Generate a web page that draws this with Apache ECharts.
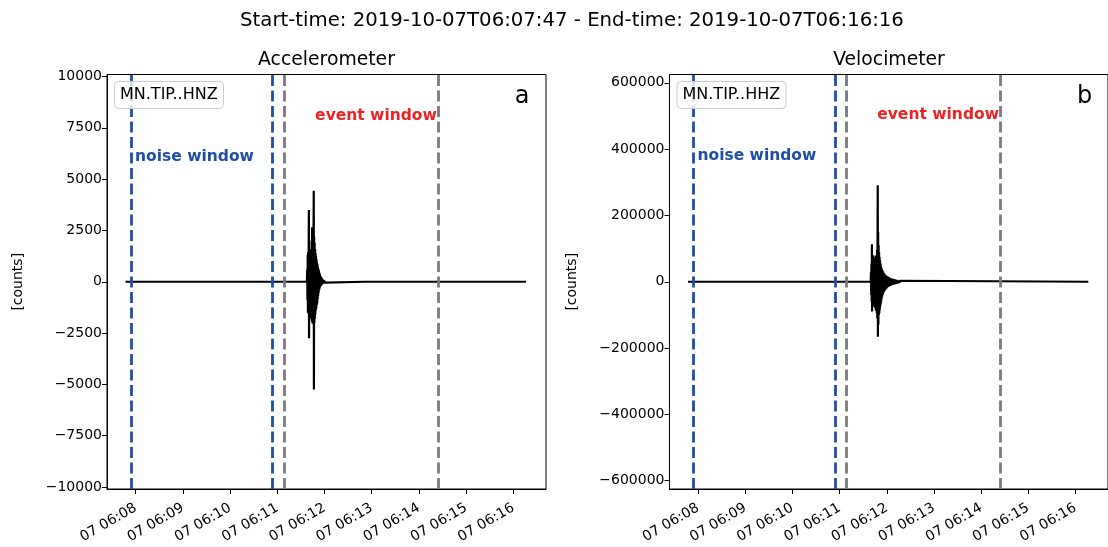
<!DOCTYPE html>
<html>
<head>
    <meta charset="UTF-8"/>
    <title>waveform</title>
    <script src="https://cdn.jsdelivr.net/npm/echarts@6/dist/echarts.min.js"></script>
    <style>
        html, body {margin: 0; padding: 0; background: #fff;}
        #main {width: 1108px; height: 547px;}
    </style>
</head>
<body>
<div id="main"></div>
<script>
    // time = seconds after 2019-10-07 06:00:00
    var accTimes = [467, 697.6,
        698.0, 698.3, 698.6, 698.9, 699.2, 699.5, 699.8, 700.1, 700.3, 700.6, 700.9, 701.2, 701.5, 701.8,
        702.1, 702.4, 702.7, 703.0, 703.3, 703.6, 703.9, 704.2, 704.5, 704.8, 705.1, 705.4, 705.7, 706.0,
        706.3, 706.5, 706.8, 707.1, 707.4, 707.7, 708.0, 708.3, 708.6, 708.9, 709.2, 709.5, 709.8, 710.1,
        710.4, 710.7, 711.0, 711.3, 711.6, 711.9, 712.2, 712.5, 712.8, 713.1, 713.45, 713.8, 714.15, 714.5,
        714.85, 715.2, 715.55, 715.9, 716.25, 716.6, 716.95, 717.3, 717.65, 718.0, 718.35, 718.7, 719.05, 719.4,
        719.75, 720.1, 720.45, 720.8, 721.15, 721.5,
        771.8, 772, 772.3, 772.5, 828.8, 829, 829.3, 829.5, 845.8, 846, 846.3, 846.5, 976];
    var accCounts = [0, 0,
        600, -900, 1300, -1500, 1450, -1550, 1400, 3500, -2750, 1450, -1600, 1400, -1550, 1500,
        -1600, 1450, -1700, 1600, -1800, 2000, -1900, 2650, -2000, 2500, -2050, 2600, -2000, 2300,
        4430, -5250, 2200, -2000, 1900, -1800, 1600, -1600, 1400, -1400, 1250, -1300, 1100, -1150,
        950, -1050, 850, -850, 720, -700, 620, -550, 560, -420, 450, -330, 360, -250,
        280, -200, 230, -170, 190, -140, 150, -110, 120, -90, 95, -75, 80, -60,
        60, -45, 45, -35, 35, 0,
        0, 60, -50, 0, 0, 50, -40, 0, 0, 60, -50, 0, 0];

    var velTimes = [467, 699.6,
        699.9, 700.2, 700.5, 700.8, 701.1, 701.3, 701.6, 701.9, 702.2, 702.5, 702.8, 703.1, 703.4, 703.7,
        704.0, 704.3, 704.6, 704.9, 705.2, 705.5, 705.8, 706.1, 706.4, 706.7, 707.0, 707.3, 707.6, 707.9,
        708.2, 708.5, 708.7, 709.0, 709.3, 709.6, 709.9, 710.2, 710.5, 710.8, 711.1, 711.4, 711.7, 712.0,
        712.3, 712.6, 712.9, 713.2, 713.5, 713.8, 714.1, 714.4, 714.8, 715.2, 715.6, 716.0, 716.4, 716.9,
        717.4, 717.9, 718.4, 719.0, 719.4, 719.8, 720.2, 720.6, 721.0, 721.4, 721.8, 722.2, 722.6, 723.0,
        723.4, 723.8, 724.2, 724.6, 725.0, 725.4, 725.8, 726.2, 726.6, 727.0, 727.4, 727.8, 728.2, 728.6,
        729.0, 729.4, 729.8, 730.2, 730.6, 731.0, 731.4, 731.8, 732.2, 732.6, 733.0, 733.4, 733.8, 734.2,
        734.6, 735.0, 735.4, 735.8, 736.2, 736.6, 737.0, 737.4, 737.8, 738.2, 976.5];
    var velCounts = [0, 0,
        30000, -40000, 55000, -60000, 113000, -90000, 60000, -65000, 65000, -70000, 80000, -72000, 62000, -70000,
        65000, -75000, 70000, -78000, 72000, -80000, 75000, -85000, 78000, -88000, 80000, -95000, 96000, -110000,
        100000, 291000, -166000, 150000, -130000, 110000, -100000, 90000, -95000, 75000, -85000, 65000, -75000, 55000,
        -68000, 47000, -60000, 42000, -52000, 38000, -45000, 35000, -40000, 31000, -35000, 27000, -30000, 24000,
        -27000, 21000, -24000, 19000, -21000, 17000, -18000, 16000, -17000, 15000, -15500, 14000, -14500, 13000,
        -13500, 12000, -12500, 11000, -11500, 10000, -10500, 9500, -9500, 9000, -9000, 8500, -8500, 8000,
        -8000, 7500, -7500, 7000, -7000, 6500, -6500, 6000, -6000, 5500, -5500, 5000, -5000, 4500,
        -4500, 4000, -4000, 3500, -3500, 3000, -3000, 2500, -2500, 0, 0];

    var noiseWindow = [474, 654];
    var eventWindow = [669, 864];

    var xTickSecs = [480, 540, 600, 660, 720, 780, 840, 900, 960];
    var xTickLabels = ['07 06:08', '07 06:09', '07 06:10', '07 06:11', '07 06:12', '07 06:13', '07 06:14', '07 06:15', '07 06:16'];
    var accTicks = [-10000, -7500, -5000, -2500, 0, 2500, 5000, 7500, 10000];
    var velTicks = [-600000, -400000, -200000, 0, 200000, 400000, 600000];

    var panelTitles = ['Accelerometer', 'Velocimeter'];
    var stationNames = ['MN.TIP..HNZ', 'MN.TIP..HHZ'];
    var panelLetters = ['a', 'b'];
    var noiseLabelY = [6100, 380000];
    var eventLabelY = [8100, 503000];

    var FONT = 'DejaVu Sans';
    var BLUE = '#1f4fa5';
    var GREY = '#7b7b7b';
    var RED = '#ee2222';

    function zip(a, b) {
        var out = [];
        for (var i = 0; i < a.length; i++) out.push([a[i], b[i]]);
        return out;
    }
    function minusFmt(v) {
        return v < 0 ? '\u2212' + Math.abs(v) : String(v);
    }

    var grids = [
        {left: 107, top: 74.5, width: 439, height: 414.5},
        {left: 669.5, top: 74.5, width: 439, height: 414.5}
    ];
    var yLimits = [10100, 625000];
    var yTicks = [accTicks, velTicks];
    var waves = [zip(accTimes, accCounts), zip(velTimes, velCounts)];

    var option = {
        animation: false,
        backgroundColor: '#fff',
        textStyle: {fontFamily: FONT},
        title: [{
            text: 'Start-time: 2019-10-07T06:07:47 - End-time: 2019-10-07T06:16:16',
            left: 572, top: 11, textAlign: 'center', padding: 0,
            textStyle: {fontFamily: FONT, fontSize: 19.7, fontWeight: 'normal', color: '#000'}
        }],
        grid: [],
        xAxis: [],
        yAxis: [],
        series: []
    };

    for (var p = 0; p < 2; p++) {
        var g = grids[p];
        option.grid.push({left: g.left, top: g.top, width: g.width, height: g.height,
            show: true, borderColor: '#000', borderWidth: 1, backgroundColor: 'transparent'});

        option.title.push({
            text: panelTitles[p], left: g.left + g.width / 2, top: 51, textAlign: 'center', padding: 0,
            textStyle: {fontFamily: FONT, fontSize: 18.8, fontWeight: 'normal', color: '#000'}
        });
        option.title.push({
            text: stationNames[p], left: g.left + 7, top: g.top + 6.5,
            padding: [6, 6, 6, 6], borderWidth: 1, borderColor: '#cccccc', borderRadius: 4,
            backgroundColor: 'rgba(255,255,255,0.8)',
            textStyle: {fontFamily: FONT, fontSize: 16, fontWeight: 'normal', color: '#000'}
        });
        option.title.push({
            text: panelLetters[p], left: g.left + g.width - 29, top: g.top + 5, textAlign: 'center',
            textStyle: {fontFamily: FONT, fontSize: 24, fontWeight: 'normal', color: '#000'}
        });

        option.xAxis.push({
            type: 'value', gridIndex: p, min: 443.5, max: 1001.5,
            axisLine: {show: true, onZero: false, lineStyle: {color: '#000', width: 1}},
            axisTick: {show: true, customValues: xTickSecs, length: 5, lineStyle: {color: '#000'}},
            splitLine: {show: false},
            axisLabel: {
                customValues: xTickSecs, rotate: 30, margin: 18,
                fontFamily: FONT, fontSize: 14, color: '#000',
                formatter: function (v) {
                    var i = xTickSecs.indexOf(v);
                    return i >= 0 ? xTickLabels[i] : '';
                }
            }
        });
        option.yAxis.push({
            type: 'value', gridIndex: p, min: -yLimits[p], max: yLimits[p],
            name: '[counts]', nameLocation: 'middle', nameGap: p === 0 ? 82 : 90,
            nameTextStyle: {fontFamily: FONT, fontSize: 14, color: '#000'},
            axisLine: {show: true, onZero: false, lineStyle: {color: '#000', width: 1}},
            axisTick: {show: true, customValues: yTicks[p], length: 5, lineStyle: {color: '#000'}},
            splitLine: {show: false},
            axisLabel: {customValues: yTicks[p], margin: 5, fontFamily: FONT, fontSize: 14, color: '#000', formatter: minusFmt}
        });

        var dash = {type: [11, 4.5], width: 2.8};
        option.series.push({
            type: 'line', xAxisIndex: p, yAxisIndex: p,
            data: waves[p], showSymbol: false, symbol: 'none',
            lineStyle: {color: '#000', width: 2.2}, z: 2,
            markLine: {
                silent: true, symbol: ['none', 'none'], label: {show: false}, z: 3,
                data: [
                    {xAxis: noiseWindow[0], lineStyle: Object.assign({color: BLUE}, dash)},
                    {xAxis: noiseWindow[1], lineStyle: Object.assign({color: BLUE}, dash)},
                    {xAxis: eventWindow[0], lineStyle: Object.assign({color: GREY}, dash)},
                    {xAxis: eventWindow[1], lineStyle: Object.assign({color: GREY}, dash)}
                ]
            }
        });
        option.series.push({
            type: 'scatter', xAxisIndex: p, yAxisIndex: p, symbolSize: 0, silent: true, z: 5,
            itemStyle: {opacity: 1},
            data: [
                {value: [noiseWindow[0], noiseLabelY[p]], label: {show: true, position: 'right', distance: 4, formatter: 'noise window',
                    color: BLUE, fontWeight: 'bold', fontSize: 15.5, fontFamily: FONT}},
                {value: [eventWindow[1], eventLabelY[p]], label: {show: true, position: 'left', distance: 1, formatter: 'event window',
                    color: RED, fontWeight: 'bold', fontSize: 15.5, fontFamily: FONT}}
            ]
        });
    }

    var chart = echarts.init(document.getElementById('main'), null, {renderer: 'canvas'});
    chart.setOption(option);
</script>
</body>
</html>
